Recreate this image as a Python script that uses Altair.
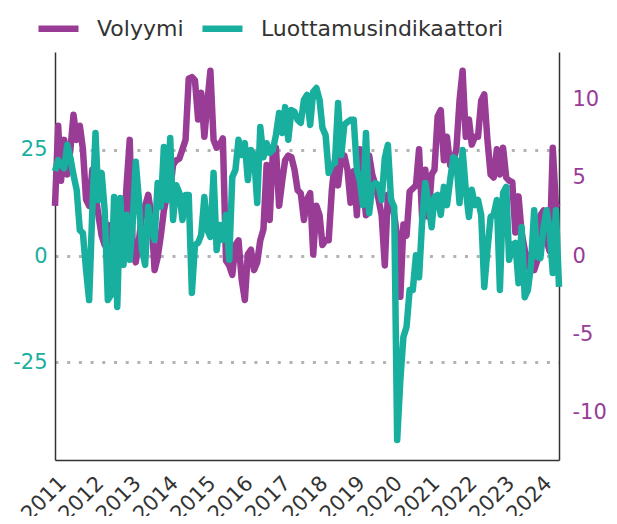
import altair as alt
import pandas as pd

# Monthly series, 2011-01 .. 2024-07
volyymi = [
    3.2, 8.3, 4.8, 7.4, 5.2, 6.8, 9.0, 7.4, 8.3, 6.8, 3.6, 3.2,
    5.5, 3.9, 2.6, 1.3, 0.7, 2.0, 0.4, 1.5, 0.7, 2.0, 1.0, 4.5,
    7.4, 0.1, -0.4, 1.0, 2.6, 3.2, 3.9, 2.6, -0.9, -0.1, 1.3, 2.9,
    3.9, 4.2, 5.8, 6.1, 6.2, 6.8, 7.4, 11.3, 11.4, 11.2, 8.7, 10.4,
    7.6, 9.9, 11.8, 7.4, 6.9, 7.1, 7.5, -0.3, -0.6, -1.2, 0.7, 1.0,
    -1.5, -2.8, 0.1, 0.4, -0.9, -0.4, 1.0, 1.7, 5.8, 2.3, 6.6, 6.9,
    3.2, 4.8, 6.1, 6.4, 6.3, 5.5, 4.2, 4.0, 2.3, 3.6, 4.0, 0.1,
    3.2, 2.6, 0.7, 1.0, 1.0, 4.2, 6.1, 4.5, 6.3, 6.4, 5.5, 3.4,
    5.4, 2.6, 6.8, 4.5, 2.6, 6.4, 5.2, 4.5, 3.6, 2.6, -0.6, 3.9,
    3.6, 2.6, 1.3, -2.6, 2.0, 1.3, 4.1, 4.3, 4.5, 6.8, 2.3, 5.5,
    2.5, 5.2, 5.5, 8.9, 9.3, 6.1, 7.6, 5.8, 6.0, 6.8, 9.9, 11.8,
    7.6, 8.7, 7.1, 7.6, 7.6, 9.9, 10.3, 7.4, 5.2, 5.0, 6.8, 5.2,
    6.9, 5.0, 4.8, 4.7, 1.5, 3.8, 1.5, 0.4, -0.7, 0.1, -0.9, -0.3,
    2.6, 2.9, 1.0, 0.3, 6.9, 3.2, 3.1,
]

luottamus = [
    20.0, 22.6, 21.5, 20.7, 26.2, 23.1, 19.1, 15.6, 6.1, 5.4, -3.3, -10.4,
    10.8, 29.0, 13.2, 19.6, 10.8, -10.4, -9.2, 13.9, -12.0, 13.7, -2.1, 9.7,
    -0.9, 8.5, 22.2, 13.2, 1.4, -2.1, 11.6, 6.1, 3.8, 17.2, 11.6, 25.7,
    13.2, 27.8, 8.5, 16.7, 14.9, 8.5, 14.4, 14.4, -8.7, 2.6, 3.1, 5.0,
    13.9, 6.1, 4.5, 19.6, 1.4, 7.3, 3.8, 9.7, -0.9, 18.6, 20.3, 27.4,
    23.8, 26.6, 17.9, 25.0, 23.8, 12.5, 30.4, 23.3, 26.6, 24.3, 25.0, 28.5,
    33.7, 29.0, 35.1, 27.4, 34.4, 34.0, 32.1, 31.4, 36.8, 38.0, 30.9, 38.7,
    39.6, 36.8, 30.2, 28.5, 19.6, 21.5, 21.9, 36.1, 23.8, 30.9, 31.6, 32.1,
    32.1, 20.3, 17.9, 12.0, 29.0, 10.1, 16.3, 17.2, 16.7, 13.2, 23.1, 26.2,
    13.2, 11.6, -43.4, -29.2, -19.1, -16.7, -8.0, -8.0, 0.2, -5.0, 8.5, 17.2,
    12.5, 6.8, 13.9, 14.4, 9.7, 16.3, 12.0, 17.9, 23.3, 22.6, 12.5, 25.0,
    15.6, 9.2, 15.6, 12.0, 13.2, 9.7, -7.3, 1.4, 9.2, 9.7, 13.2, -8.0,
    14.9, 16.3, -0.9, 2.6, 3.1, -6.4, 6.8, -9.7, -8.0, -2.1, 10.8, -0.2,
    -0.5, 6.8, 10.8, 6.1, -4.0, 10.8, -7.3,
]

series_names = ["Volyymi", "Luottamusindikaattori"]
series_colors = ["#983c96", "#19af9e"]
year_ticks = list(range(2011, 2025))

dates = pd.date_range("2011-01-01", periods=len(volyymi), freq="MS")
df = pd.concat([
    pd.DataFrame({"date": dates, "value": volyymi, "series": series_names[0]}),
    pd.DataFrame({"date": dates, "value": luottamus, "series": series_names[1]}),
])

hyphen_labels = "datum.value < 0 ? '-' + abs(datum.value) : '' + datum.value"

color = alt.Color(
    "series:N",
    scale=alt.Scale(domain=series_names, range=series_colors),
    legend=alt.Legend(
        orient="none", legendX=-20, legendY=-47, direction="horizontal",
        title=None, symbolType="stroke", symbolStrokeWidth=6.5, symbolSize=1600,
        labelFontSize=22, labelColor="#333333", labelOffset=15, columnPadding=5,
        labelLimit=1000,
    ),
)

x = alt.X(
    "date:T",
    scale=alt.Scale(domain=[alt.DateTime(year=2011, month=1, date=1),
                            alt.DateTime(year=2024, month=7, date=1)]),
    axis=alt.Axis(
        title=None, format="%Y",
        values=[alt.DateTime(year=y, month=1, date=1) for y in year_ticks],
        labelAngle=315, labelAlign="right", labelBaseline="top",
        labelPadding=12, labelFontSize=21, labelColor="#333333",
        labelOverlap=False, labelFlush=False, labelBound=False,
        ticks=False, grid=False, domainColor="#333333", domainWidth=1.5,
    ),
)

base = alt.Chart(df)

purple = base.transform_filter(alt.datum.series == series_names[0]).mark_line(
    strokeWidth=6.5, strokeJoin="round"
).encode(
    x=x,
    y=alt.Y(
        "value:Q",
        scale=alt.Scale(domain=[-13, 13], nice=False, zero=False),
        axis=alt.Axis(
            orient="right", title=None, values=[-10, -5, 0, 5, 10],
            labelExpr=hyphen_labels,
            labelColor=series_colors[0], labelFontSize=21, labelPadding=13,
            ticks=False, grid=False, domainColor="#333333", domainWidth=1.5,
        ),
    ),
    color=color,
)

teal = base.transform_filter(alt.datum.series == series_names[1]).mark_line(
    strokeWidth=6.5, strokeJoin="round"
).encode(
    x=x,
    y=alt.Y(
        "value:Q",
        scale=alt.Scale(domain=[-48.1, 48.1], nice=False, zero=False),
        axis=alt.Axis(
            orient="left", title=None, values=[-25, 0, 25],
            labelExpr=hyphen_labels,
            labelColor=series_colors[1], labelFontSize=21, labelPadding=8,
            ticks=False, grid=True, gridColor="#b3b3b3", gridDash=[3, 8.7],
            gridWidth=2.8, domainColor="#333333", domainWidth=1.5,
        ),
    ),
    color=color,
)

chart = alt.layer(purple, teal).resolve_scale(y="independent").properties(
    width=504, height=408,
    autosize=alt.AutoSizeParams(type="none"),
    padding={"left": 47, "top": 44, "right": 50, "bottom": 56},
).configure(font="DejaVu Sans").configure_view(stroke="transparent")

chart.save("out.html", embed_options={"renderer": "svg", "actions": False})
